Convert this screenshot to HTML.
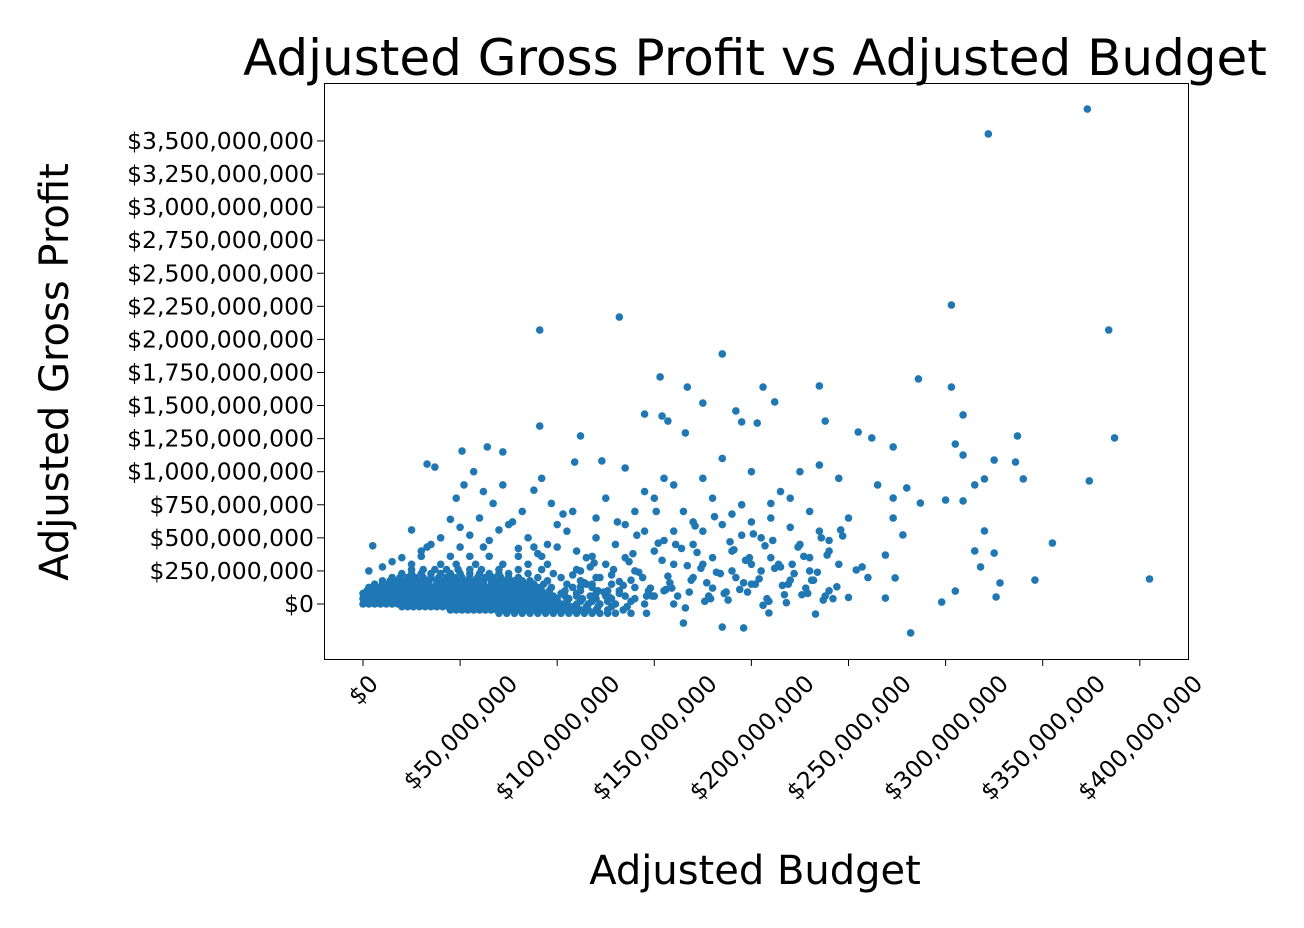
<!DOCTYPE html>
<html><head><meta charset="utf-8">
<style>
html,body{margin:0;padding:0;background:#fff;}
svg{display:block;font-family:"DejaVu Sans","Liberation Sans",sans-serif;}
</style></head>
<body>
<svg id="chart" width="1304" height="928" viewBox="0 0 1304 928" xmlns="http://www.w3.org/2000/svg">
<text x="755" y="75" font-size="50" text-anchor="middle">Adjusted Gross Profit vs Adjusted Budget</text>
<text transform="translate(68,372) rotate(-90)" font-size="40" text-anchor="middle">Adjusted Gross Profit</text>
<text x="755" y="884" font-size="40" text-anchor="middle">Adjusted Budget</text>
<g id="marks"></g>
<rect x="324.5" y="83.5" width="864" height="576" fill="none" stroke="#000" stroke-width="1"/>
<g id="yaxis"></g>
<g id="xaxis"></g>
</svg>
<script>
// values in millions of dollars
const yTickValues=[0,250,500,750,1000,1250,1500,1750,2000,2250,2500,2750,3000,3250,3500];
const yTickLabels=["$0","$250,000,000","$500,000,000","$750,000,000","$1,000,000,000","$1,250,000,000","$1,500,000,000","$1,750,000,000","$2,000,000,000","$2,250,000,000","$2,500,000,000","$2,750,000,000","$3,000,000,000","$3,250,000,000","$3,500,000,000"];
const xTickValues=[0,50,100,150,200,250,300,350,400];
const xTickLabels=["$0","$50,000,000","$100,000,000","$150,000,000","$200,000,000","$250,000,000","$300,000,000","$350,000,000","$400,000,000"];
// dense cluster rows: profit per row, budgets per row
const rowProfits=[-70,-45,-20,0,20,40,60,80,100,125,150,175,200,230,260,300,360,430];
const rowBudgets=[
[70,74,78,82,86,90,94,98,102,106,110,114,118,122,126,130,138,146],
[45,48,51,54,57,60,63,66,69,72,75,78,81,84,87,90,93,96,99,102,105,108,112,116,120,126,134],
[20,23,26,29,32,35,38,41,44,47,50,53,56,59,62,65,68,71,74,77,80,83,86,89,92,95,98,101,104,107,110,115,121,128,136],
[0,3,6,9,12,15,18,21,24,27,30,33,36,39,42,45,48,51,54,57,60,63,66,69,72,75,78,81,84,87,90,93,96,99,102,105,110,116,122,130,145,160],
[1,4,7,10,13,16,19,22,25,28,31,34,37,40,43,46,49,52,55,58,61,64,67,70,73,76,79,82,85,88,91,94,97,100,105,112,118,126,138],
[0,3,6,9,12,15,18,21,24,27,30,33,36,39,42,45,48,51,54,57,60,63,66,69,72,75,78,81,84,87,90,93,96,100,106,113,120,128,140],
[1,4,7,10,13,16,19,22,25,28,31,34,37,40,43,46,49,52,55,58,61,64,67,70,73,76,79,82,85,88,91,94,98,104,110,117,125,135,150],
[0,3,6,9,12,15,18,21,24,27,30,33,36,39,42,45,48,51,54,57,60,63,66,69,72,75,78,81,84,87,90,95,102,110,120,132],
[2,5,8,11,14,17,20,23,26,29,32,35,38,41,44,47,50,53,56,59,62,65,68,71,74,77,80,83,86,89,92,96,104,112,121,132,155],
[3,6,9,12,15,18,21,24,27,30,33,36,39,42,45,48,51,54,57,60,63,66,69,72,75,78,81,84,87,90,97,108,118,140],
[6,10,13,17,20,24,27,31,34,38,41,45,48,52,55,59,62,66,69,73,76,80,84,88,93,105,115,128],
[10,14,18,22,26,30,34,38,42,46,50,54,58,62,66,70,74,78,82,86,95,112],
[15,19,23,27,31,35,39,43,47,51,55,59,63,67,71,75,80,90,102,120],
[20,25,30,35,40,45,50,55,60,65,70,75,85,98],
[25,31,37,43,49,55,61,70,80,92,110],
[25,40,48,58,72,85,95],
[30,45,55,65,80,92,118],
[33,50,62,88,100]];
// scattered points
const scatterBudget=[373,322,303,384,91,132,185,286,303,153,167,206,235,212,175,309,387,337,91,112,145,192,154,157,166,255,262,305,309,273,238,203,195,51,64,123,109,135,33,37,72,325,336,340,374,320,309,300,315,320,325,355,328,315,318,326,298,305,346,405,282,185,196,233,209,165,287,280,273,273,278,269,274,269,254,257,247,
110,115,120,125,130,135,140,145,150,155,160,165,170,175,180,185,190,195,200,205,210,215,220,225,230,235,240,245,250,260,265,150,160,170,180,190,200,210,220,230,240,250,140,145,155,175,185,200,215,225,235,245,120,125,135,105,108,112,118,128,138,148,158,168,178,188,198,208,218,228,238,160,170,180,190,200,210,220,230,240,175,195,205,100,95,90,85,80,75,70,65,60,55,50,45,40,35,30,25,20,15,10,5,3,48,52,57,62,67,72,77,82,88,92,97,103,
108,114,119,124,129,134,139,144,149,154,159,164,169,174,179,184,189,194,199,204,209,214,219,224,229,234,239,244,112,117,122,127,132,137,142,147,152,157,162,167,172,177,182,187,192,197,202,207,212,217,222,227,232,237,242,116,126,136,146,156,166,176,186,196,206,216,226,236,246,131,141,151,161,171,181,191,201,211,221,231];
const scatterProfit=[3741,3553,2260,2071,2071,2169,1890,1701,1640,1716,1640,1640,1648,1527,1519,1429,1255,1270,1345,1270,1436,1459,1421,1383,1293,1300,1255,1209,1126,1187,1383,1368,1376,1156,1187,1081,1073,1028,1058,1035,1149,1088,1073,945,930,945,779,786,900,552,385,461,159,401,280,53,15,98,181,189,-219,-174,-181,-76,-68,-144,763,877,801,650,522,370,197,45,257,280,514,
400,350,500,300,450,600,250,550,400,480,300,700,450,550,350,600,400,750,300,500,650,280,800,450,350,550,400,300,650,200,900,800,900,200,120,250,150,350,180,250,100,50,700,850,950,950,1100,1000,850,1000,1050,950,650,800,350,550,700,250,150,220,180,120,160,90,60,30,90,40,10,120,60,550,620,800,680,620,760,580,700,480,300,520,250,600,450,380,500,420,600,560,480,650,520,580,640,500,450,400,560,350,320,280,440,250,800,900,1000,850,760,900,620,700,860,950,760,680,
220,160,310,90,260,140,380,200,60,330,120,420,180,270,40,230,470,110,350,190,20,300,150,430,80,240,370,130,130,280,200,50,170,320,240,100,460,210,60,290,390,160,240,90,200,330,150,440,270,70,230,360,180,30,40,0,100,-20,60,110,-30,20,80,160,-10,140,70,500,560,620,520,700,450,590,660,410,530,480,300,180];

const X0=363, XS=1.942, Y0=604, YS=0.1323;
function xScale(v){return X0+v*XS;}
function yScale(v){return Y0-v*YS;}
const NS="http://www.w3.org/2000/svg";
const marks=document.getElementById('marks');
function dot(b,p){
  const c=document.createElementNS(NS,'circle');
  c.setAttribute('cx',xScale(b));c.setAttribute('cy',yScale(p));c.setAttribute('r',3.8);
  c.setAttribute('fill','#1f77b4');
  
  
  marks.appendChild(c);
}
rowProfits.forEach((p,i)=>rowBudgets[i].forEach(b=>dot(b,p)));
scatterBudget.forEach((b,i)=>{ if(scatterProfit[i]!==undefined) dot(b,scatterProfit[i]); });

const ya=document.getElementById('yaxis');
yTickValues.forEach((v,i)=>{
  const y=yScale(v);
  const l=document.createElementNS(NS,'line');
  l.setAttribute('x1',317);l.setAttribute('x2',324);l.setAttribute('y1',y);l.setAttribute('y2',y);l.setAttribute('stroke','#000');
  
  
  ya.appendChild(l);
  const t=document.createElementNS(NS,'text');
  t.setAttribute('x',314);t.setAttribute('y',y+8);t.setAttribute('font-size','23.5');t.setAttribute('text-anchor','end');
  t.textContent=yTickLabels[i];
  
  
  ya.appendChild(t);
});
const xa=document.getElementById('xaxis');
xTickValues.forEach((v,i)=>{
  const x=xScale(v);
  const l=document.createElementNS(NS,'line');
  l.setAttribute('x1',x);l.setAttribute('x2',x);l.setAttribute('y1',659);l.setAttribute('y2',666);l.setAttribute('stroke','#000');
  
  
  xa.appendChild(l);
  const t=document.createElementNS(NS,'text');
  t.setAttribute('font-size','23.5');t.setAttribute('text-anchor','middle');
  t.textContent=xTickLabels[i];
  
  
  xa.appendChild(t);
  const w=t.getComputedTextLength();
  const h=17;
  const cy=673+(w+h)/(2*Math.SQRT2);
  t.setAttribute('transform','translate('+x+','+cy+') rotate(-45) translate(0,'+(h/2)+')');
});
</script>
</body></html>
